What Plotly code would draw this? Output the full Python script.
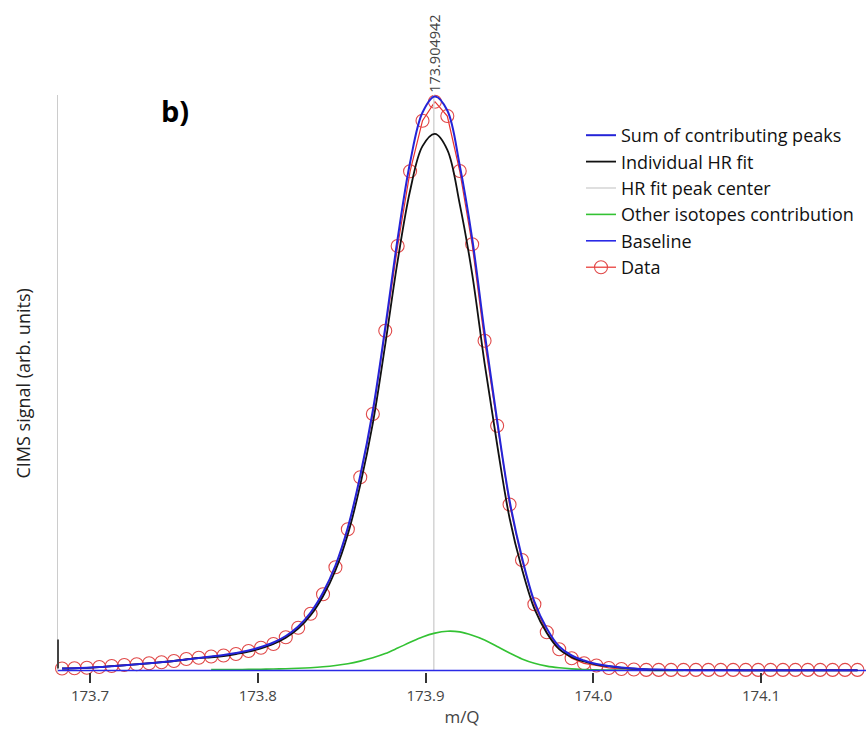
import plotly.graph_objects as go

# ---------------- data ----------------
mq = [173.6833, 173.6907, 173.6981, 173.7055, 173.7129, 173.7204, 173.7278, 173.7352,
      173.7426, 173.7500, 173.7574, 173.7648, 173.7722, 173.7796, 173.7870, 173.7945,
      173.8019, 173.8093, 173.8167, 173.8241, 173.8315, 173.8389, 173.8463, 173.8537,
      173.8611, 173.8686, 173.8760, 173.8834, 173.8908, 173.8982, 173.9056, 173.9130,
      173.9204, 173.9278, 173.9352, 173.9427, 173.9501, 173.9575, 173.9649, 173.9723,
      173.9797, 173.9871, 173.9945, 174.0019, 174.0093, 174.0168, 174.0242, 174.0316,
      174.0390, 174.0464, 174.0538, 174.0612, 174.0686, 174.0760, 174.0834, 174.0909,
      174.0983, 174.1057, 174.1131, 174.1205, 174.1279, 174.1353, 174.1427, 174.1501,
      174.1575]

data_signal = [2.0, 2.2, 2.7, 3.5, 4.5, 5.5, 6.2, 7.2, 8.2, 9.5, 11.5, 12.8, 14.0, 15.0,
               16.5, 19.5, 22.8, 26.5, 33.2, 42.8, 56.8, 76.2, 103.2, 141.2, 193.2, 256.5,
               339.8, 424.5, 499.2, 549.8, 568.8, 554.5, 499.5, 426.2, 329.8, 244.8, 166.0,
               110.5, 66.2, 38.2, 21.2, 12.2, 7.2, 5.0, 2.5, 1.5, 1.0, 0.6, 0.6, 0.6, 0.6,
               0.6, 0.6, 0.6, 0.6, 0.6, 0.6, 0.6, 0.6, 0.6, 0.6, 0.6, 0.6, 0.6, 0.6]

sum_peaks = [2.0, 2.2, 2.7, 3.4, 4.3, 5.2, 6.2, 7.2, 8.3, 9.5, 11.0, 12.5, 14.0, 15.5,
             17.5, 20.0, 23.5, 28.0, 34.5, 44.0, 58.0, 78.0, 105.0, 143.0, 195.0, 260.0,
             343.0, 432.0, 508.0, 558.0, 574.0, 560.0, 505.0, 432.0, 338.0, 250.0, 170.0,
             113.0, 69.0, 42.0, 24.0, 15.0, 10.0, 6.5, 4.5, 3.0, 2.0, 1.3, 0.9, 0.6, 0.4,
             0.3, 0.3, 0.3, 0.3, 0.2, 0.2, 0.2, 0.2, 0.2, 0.2, 0.2, 0.2, 0.2, 0.2]

hr_fit = [2.0, 2.2, 2.7, 3.4, 4.3, 5.2, 6.2, 7.2, 8.3, 9.5, 11.0, 12.5, 13.1, 14.5,
          16.5, 18.9, 22.2, 26.5, 32.7, 41.8, 55.2, 74.3, 100.0, 136.2, 185.6, 247.3,
          326.1, 409.6, 479.8, 524.4, 536.6, 520.7, 466.4, 396.7, 307.4, 226.0, 152.5,
          101.5, 61.8, 37.6, 21.3, 13.4, 9.0, 5.9, 4.1, 2.7, 1.8, 1.1, 0.7, 0.5, 0.3,
          0.3, 0.3, 0.3, 0.3, 0.2, 0.2, 0.2, 0.2, 0.2, 0.2, 0.2, 0.2, 0.2, 0.2]

# other isotopes contribution is defined on the sub-range mq[12] .. mq[50]
iso_start, iso_end = 12, 51
other_isotopes = [0.9, 1.0, 1.0, 1.1, 1.3, 1.5, 1.8, 2.2, 2.8, 3.7, 5.0, 6.8, 9.4, 12.7,
                  16.9, 22.4, 28.2, 33.6, 37.4, 39.3, 38.6, 35.3, 30.6, 24.0, 17.5, 11.5,
                  7.2, 4.4, 2.7, 1.6, 1.0, 0.6, 0.4, 0.3, 0.2, 0.2, 0.1, 0.1, 0.1]

peak_center = 173.904942
x_range = [173.6809, 174.1626]
y_range = [-1.5, 575.5]
x_ticks = [173.7, 173.8, 173.9, 174.0, 174.1]
x_tick_labels = ["173.7", "173.8", "173.9", "174.0", "174.1"]

FONT = "Open Sans"
BLUE = "#2424d8"

fig = go.Figure()

# data (drawn first, underneath)
fig.add_trace(go.Scatter(
    x=mq, y=data_signal, mode="lines+markers", name="Data",
    line=dict(color="#e8302c", width=1.2),
    marker=dict(symbol="circle-open", size=13, color="#e04848", line=dict(width=1.1)),
    cliponaxis=False, legendrank=6, legendgroup="g6"))

# peak centre
fig.add_trace(go.Scatter(
    x=[peak_center, peak_center], y=[0, y_range[1]], mode="lines",
    name="HR fit peak center", line=dict(color="#d4d4d4", width=1.5),
    legendrank=3, legendgroup="g3"))

# other isotopes
fig.add_trace(go.Scatter(
    x=mq[iso_start:iso_end], y=other_isotopes, mode="lines",
    name="Other isotopes contribution", line=dict(color="#33c233", width=1.6, shape="spline"),
    legendrank=4, legendgroup="g4"))

# baseline
fig.add_trace(go.Scatter(
    x=x_range, y=[0, 0], mode="lines", name="Baseline",
    line=dict(color="#2a2ae6", width=1.6), legendrank=5, legendgroup="g5"))

# individual HR fit
fig.add_trace(go.Scatter(
    x=mq, y=hr_fit, mode="lines", name="Individual HR fit",
    line=dict(color="#111111", width=1.8, shape="spline"),
    legendrank=2, legendgroup="g2"))

# sum of contributing peaks
fig.add_trace(go.Scatter(
    x=mq, y=sum_peaks, mode="lines", name="Sum of contributing peaks",
    line=dict(color=BLUE, width=2.0, shape="spline"),
    legendrank=1, legendgroup="g1"))

fig.update_layout(
    width=866, height=740,
    margin=dict(l=58, r=0, t=95, b=68),
    paper_bgcolor="white", plot_bgcolor="white",
    font=dict(family=FONT, size=15, color="#333333"),
    showlegend=True,
    legend=dict(x=(581 - 58) / 808, y=(672 - 117) / 577, xanchor="left", yanchor="top",
                bgcolor="rgba(0,0,0,0)", font=dict(family=FONT, size=18, color="#111111"),
                tracegroupgap=0, itemwidth=30),
    xaxis=dict(range=x_range, showgrid=False, zeroline=False, showline=False,
               tickmode="array", tickvals=x_ticks, ticktext=x_tick_labels,
               ticks="outside", ticklen=10, tickwidth=1.5, tickcolor="#333333",
               tickfont=dict(family=FONT, size=15, color="#444444"),
               title=dict(text="m/Q", font=dict(family=FONT, size=17, color="#444444"), standoff=6)),
    yaxis=dict(range=y_range, showgrid=False, zeroline=False, showline=True,
               linecolor="#cccccc", linewidth=1, showticklabels=False, ticks=""),
)

# dark segment at the bottom of the y axis
fig.add_shape(type="line", xref="paper", yref="y", x0=0, x1=0, y0=2, y1=31,
              line=dict(color="#444444", width=2))

# y axis title
fig.add_annotation(text="CIMS signal (arb. units)", xref="paper", yref="paper",
                   x=-36 / 808, y=0.5, xanchor="center", yanchor="middle",
                   textangle=-90, showarrow=False,
                   font=dict(family=FONT, size=18, color="#222222"))

# peak centre label
fig.add_annotation(text=f"{peak_center:.6f}", x=peak_center, xref="x", yref="paper",
                   y=1.0, xanchor="center", yanchor="bottom", textangle=-90,
                   showarrow=False, font=dict(family=FONT, size=14.5, color="#444444"))

# panel label
fig.add_annotation(text="<b>b)</b>", xref="paper", yref="paper",
                   x=(175 - 58) / 808, y=(672 - 110) / 577, xanchor="center", yanchor="middle",
                   showarrow=False, font=dict(family=FONT, size=29, color="#000000"))

fig.write_html("out.html")
